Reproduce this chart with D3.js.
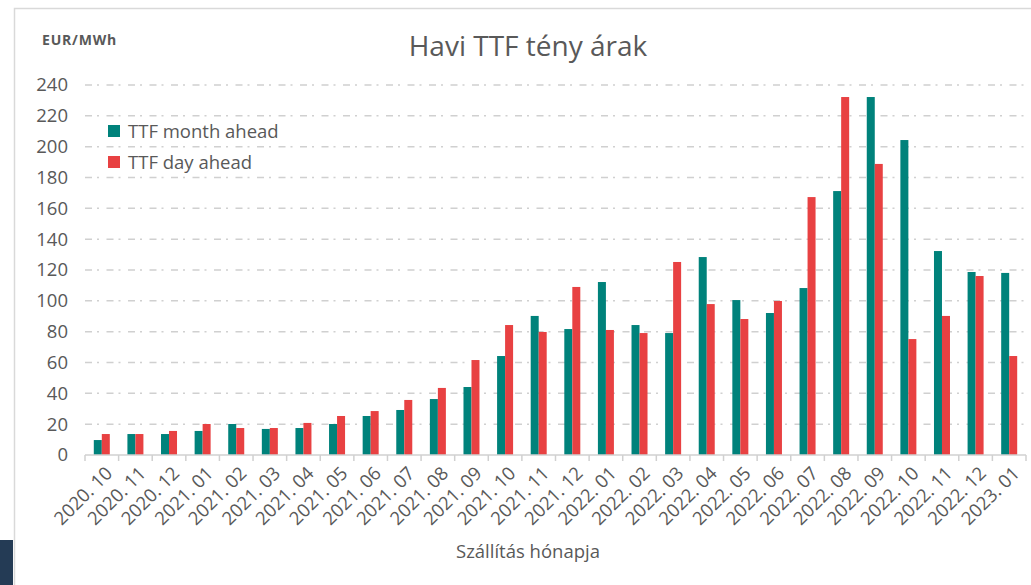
<!DOCTYPE html>
<html>
<head>
<meta charset="utf-8">
<script src="https://cdn.jsdelivr.net/npm/d3@7"></script>
<style>
  body { margin: 0; background: #fff; }
  #chart { width: 1031px; height: 585px; }
  text { font-family: "Open Sans", "Lato", sans-serif; fill: #595959; }
</style>
</head>
<body>
<div id="chart"></div>
<script>
// data
var months = ["2020. 10", "2020. 11", "2020. 12", "2021. 01", "2021. 02", "2021. 03", "2021. 04",
    "2021. 05", "2021. 06", "2021. 07", "2021. 08", "2021. 09", "2021. 10", "2021. 11", "2021. 12",
    "2022. 01", "2022. 02", "2022. 03", "2022. 04", "2022. 05", "2022. 06", "2022. 07", "2022. 08",
    "2022. 09", "2022. 10", "2022. 11", "2022. 12", "2023. 01"];
var monthAhead = [9.7, 13.6, 13.6, 15.6, 20.1, 16.9, 17.5, 20.1, 25.3, 29.2, 36.3, 44.1, 64.2, 90.2,
    81.7, 112.2, 84.3, 79.1, 128.4, 100.5, 92.1, 108.3, 171.2, 232.2, 204.3, 132.3, 118.7, 118.1];
var dayAhead = [13.6, 13.6, 15.6, 20.1, 17.5, 17.5, 20.8, 25.3, 28.5, 35.7, 43.5, 61.6, 84.3, 79.8,
    109.0, 81.1, 79.1, 125.2, 97.9, 88.2, 99.9, 167.3, 232.2, 188.8, 75.2, 90.2, 116.1, 64.2];
var seriesNames = ["TTF month ahead", "TTF day ahead"];
var yTicks = [0, 20, 40, 60, 80, 100, 120, 140, 160, 180, 200, 220, 240];

var colors = {"TTF month ahead": "#00827b", "TTF day ahead": "#e84142"};

var W = 1031, H = 585;
var margin = {top: 85, right: 5, bottom: 130, left: 85};
var fs = "18.5px";

var svg = d3.select("#chart")
    .append("svg")
        .attr("width", W)
        .attr("height", H);

// outer frame + dark block at bottom left
svg.append("rect")
    .attr("x", 14.5).attr("y", 8.5)
    .attr("width", W).attr("height", H)
    .style("fill", "none")
    .style("stroke", "#d9d9d9")
    .style("stroke-width", 1.5);
svg.append("rect")
    .attr("x", 0).attr("y", 540)
    .attr("width", 13).attr("height", 45)
    .style("fill", "#243b55");

var x = d3.scaleBand()
    .domain(months)
    .range([margin.left, W - margin.right]);

var x1 = d3.scaleBand()
    .domain(seriesNames)
    .range([0, x.bandwidth()])
    .paddingOuter(1.1);

var y = d3.scaleLinear()
    .domain([0, 240])
    .range([H - margin.bottom, margin.top]);

// gridlines
svg.append("g")
    .selectAll("line")
    .data(yTicks.filter(function(d) { return d > 0; }))
    .enter()
    .append("line")
        .attr("x1", margin.left)
        .attr("x2", W - margin.right)
        .attr("y1", function(d) { return y(d); })
        .attr("y2", function(d) { return y(d); })
        .style("stroke", "#d0d0d0")
        .style("stroke-width", 1.5)
        .style("stroke-dasharray", "7,5,2,7.5");

// y axis labels
svg.append("g")
    .attr("transform", "translate(" + margin.left + ",0)")
    .style("font-size", fs)
    .style("font-family", "inherit")
    .call(d3.axisLeft(y).tickValues(yTicks).tickSize(0).tickPadding(17))
    .call(function(g) { g.select(".domain").remove(); })
    .selectAll("text").style("fill", "#595959");

// bars
var rows = months.map(function(m, i) {
    return {month: m, values: [
        {key: seriesNames[0], value: monthAhead[i]},
        {key: seriesNames[1], value: dayAhead[i]}
    ]};
});

svg.append("g")
    .selectAll("g")
    .data(rows)
    .enter()
    .append("g")
        .attr("transform", function(d) { return "translate(" + x(d.month) + ",0)"; })
    .selectAll("rect")
    .data(function(d) { return d.values; })
    .enter()
    .append("rect")
        .attr("x", function(d) { return x1(d.key); })
        .attr("y", function(d) { return y(d.value); })
        .attr("width", x1.bandwidth())
        .attr("height", function(d) { return y(0) - y(d.value); })
        .style("fill", function(d) { return colors[d.key]; });

// x axis: line, ticks at band edges, rotated labels
var xAxis = svg.append("g")
    .attr("transform", "translate(0," + y(0) + ")");
xAxis.append("line")
    .attr("x1", margin.left).attr("x2", W - margin.right)
    .style("stroke", "#d0d0d0").style("stroke-width", 1.5);
xAxis.selectAll(".edge")
    .data(months.concat(["end"]))
    .enter()
    .append("line")
        .attr("class", "edge")
        .attr("x1", function(d) { return d == "end" ? x.range()[1] : x(d); })
        .attr("x2", function(d) { return d == "end" ? x.range()[1] : x(d); })
        .attr("y1", 0).attr("y2", 6)
        .style("stroke", "#d0d0d0").style("stroke-width", 1.5);
xAxis.selectAll(".lbl")
    .data(months)
    .enter()
    .append("text")
        .attr("class", "lbl")
        .attr("transform", function(d) {
            return "translate(" + (x(d) + x.bandwidth() / 2 + 7) + ",15) rotate(-45)";
        })
        .attr("text-anchor", "end")
        .attr("dy", "0.35em")
        .style("font-size", fs)
        .text(function(d) { return d; });

// titles
svg.append("text")
    .attr("x", 528)
    .attr("y", 56)
    .attr("text-anchor", "middle")
    .style("font-size", "28px")
    .text("Havi TTF tény árak");

svg.append("text")
    .attr("x", 42)
    .attr("y", 45)
    .style("font-size", "14px")
    .style("font-weight", "bold")
    .style("letter-spacing", "0.8px")
    .text("EUR/MWh");

svg.append("text")
    .attr("x", 528)
    .attr("y", 558)
    .attr("text-anchor", "middle")
    .style("font-size", fs)
    .text("Szállítás hónapja");

// legend
var legend = svg.append("g")
    .selectAll("g")
    .data(seriesNames)
    .enter()
    .append("g")
        .attr("transform", function(d, i) { return "translate(108," + (125 + i * 31) + ")"; });
legend.append("rect")
    .attr("width", 12).attr("height", 12)
    .style("fill", function(d) { return colors[d]; });
legend.append("text")
    .attr("x", 20)
    .attr("y", 12.5)
    .style("font-size", fs)
    .text(function(d) { return d; });
</script>
</body>
</html>
